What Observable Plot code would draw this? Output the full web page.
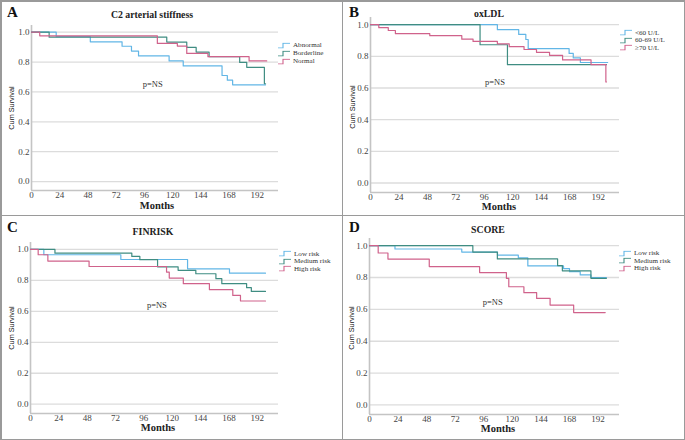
<!DOCTYPE html>
<html>
<head>
<meta charset="utf-8">
<script src="https://cdn.jsdelivr.net/npm/d3@7"></script>
<script src="https://cdn.jsdelivr.net/npm/@observablehq/plot@0.6"></script>
<style>
  html, body { margin: 0; padding: 0; background: #fff; }
  #fig { position: relative; width: 685px; height: 440px; background: #fff; overflow: hidden; }
  .panel { position: absolute; }
  .panel svg { position: absolute; left: 0; top: 0; }
  .lbl { position: absolute; white-space: nowrap; font-family: "Liberation Serif", serif; color: #222; line-height: 1; }
  .letter { font-size: 15px; font-weight: bold; color: #111; }
  .title { font-size: 9.8px; font-weight: bold; transform: translate(-50%, -50%); }
  .months { font-size: 10.5px; font-weight: bold; transform: translate(-50%, -50%); }
  .ylab { font-family: "Liberation Sans", Arial, sans-serif; font-size: 7.3px; transform: translate(-50%, -50%) rotate(-90deg); color: #111; }
  .leg { font-size: 7.1px; line-height: 7px; height: 7px; color: #333; transform: translateY(-50%); display: flex; align-items: center; }
  .leg svg { position: static; margin-right: 3px; }
  .border { position: absolute; background: #9a9a9a; }
</style>
</head>
<body>
<div id="fig"></div>
<script>
// ---------- data ----------
const xTicks = [0, 24, 48, 72, 96, 120, 144, 168, 192];
const yTicks = [0, 0.2, 0.4, 0.6, 0.8, 1.0];
const colors = ["#62b6e6", "#3f8d82", "#d0628b"];

// Panel A: C2 arterial stiffness
const A_names = ["Abnormal", "Borderline", "Normal"];
const A_abnormal_t = [0, 21, 50, 77, 85, 91, 117, 129, 162, 166.5, 171, 199];
const A_abnormal_s = [1, 0.970, 0.936, 0.906, 0.874, 0.841, 0.808, 0.774, 0.710, 0.679, 0.648, 0.648];
const A_border_t = [0, 15, 115, 132, 140, 151, 177, 183, 198, 199];
const A_border_s = [1, 0.967, 0.934, 0.898, 0.867, 0.836, 0.798, 0.765, 0.655, 0.655];
const A_normal_t = [0, 7, 107, 124, 132, 150, 185, 200];
const A_normal_s = [1, 0.976, 0.925, 0.907, 0.858, 0.836, 0.808, 0.808];

// Panel B: oxLDL
const B_names = ["<60 U/L", "60-69 U/L", "\u226570 U/L"];
const B_lt60_t = [0, 107, 125, 131, 133, 167.5, 171, 177, 200];
const B_lt60_s = [1, 0.968, 0.938, 0.906, 0.848, 0.818, 0.790, 0.761, 0.761];
const B_mid_t = [0, 92.4, 115.5, 199];
const B_mid_s = [1, 0.873, 0.747, 0.747];
const B_ge70_t = [0, 7, 15, 21, 50, 77, 86.5, 107, 117, 129.5, 140, 151, 162, 186, 198.5, 199];
const B_ge70_s = [1, 0.981, 0.963, 0.943, 0.930, 0.908, 0.894, 0.879, 0.861, 0.843, 0.825, 0.806, 0.777, 0.747, 0.638, 0.638];

// Panel C: FINRISK
const C_names = ["Low risk", "Medium risk", "High risk"];
const C_low_t = [0, 11.3, 76.5, 133, 168.5, 199];
const C_low_s = [1, 0.966, 0.935, 0.875, 0.847, 0.847];
const C_med_t = [0, 20.7, 85.8, 92.6, 107.6, 125, 140, 157, 162, 183, 187, 199];
const C_med_s = [1, 0.976, 0.955, 0.934, 0.888, 0.865, 0.843, 0.811, 0.779, 0.753, 0.729, 0.729];
const C_high_t = [0, 6.5, 14.7, 49.6, 115.2, 117.5, 129.4, 151.5, 171.3, 177.8, 199];
const C_high_s = [1, 0.966, 0.925, 0.890, 0.854, 0.815, 0.779, 0.740, 0.703, 0.667, 0.667];

// Panel D: SCORE
const D_names = ["Low risk", "Medium risk", "High risk"];
const D_low_t = [0, 21.4, 77.5, 107.5, 125, 133, 163, 168, 177, 186, 199];
const D_low_s = [1, 0.979, 0.960, 0.940, 0.923, 0.873, 0.856, 0.837, 0.816, 0.800, 0.800];
const D_med_t = [0, 86.8, 107.4, 158, 162, 186, 199];
const D_med_s = [1, 0.960, 0.917, 0.875, 0.842, 0.795, 0.795];
const D_high_t = [0, 7.3, 15.5, 50.2, 92.5, 115, 117, 129.7, 140.4, 151.7, 171.5, 198];
const D_high_s = [1, 0.954, 0.916, 0.869, 0.831, 0.795, 0.742, 0.705, 0.669, 0.627, 0.580, 0.580];

const pText = "p=NS";

// ---------- helpers ----------
function series(name, ts, ss) { return ts.map((t, i) => ({g: name, t, s: ss[i]})); }

const panels = [
  {left: 0, top: 0, w: 342, h: 215, letter: "A", title: "C2 arterial stiffness",
   mL: 31, mR: 64, mT: 25, mB: 25, pX: 103, pY: 0.65, titleXY: [152, 15], monthsXY: [157, 206], ylabXY: [12, 108],
   names: A_names, legX: 278, legY: [45, 53, 61],
   data: [series(A_names[0], A_abnormal_t, A_abnormal_s), series(A_names[1], A_border_t, A_border_s), series(A_names[2], A_normal_t, A_normal_s)]},
  {left: 342, top: 0, w: 343, h: 215, letter: "B", title: "oxLDL",
   mL: 28, mR: 66, mT: 17, mB: 23, pX: 105, pY: 0.637, titleXY: [147, 14], monthsXY: [157, 207], ylabXY: [11, 107],
   names: B_names, legX: 278, legY: [32.5, 40, 47.5],
   data: [series(B_names[0], B_lt60_t, B_lt60_s), series(B_names[1], B_mid_t, B_mid_s), series(B_names[2], B_ge70_t, B_ge70_s)]},
  {left: 0, top: 215, w: 342, h: 225, letter: "C", title: "FINRISK",
   mL: 30, mR: 64, mT: 27, mB: 27, pX: 107, pY: 0.64, titleXY: [153, 17], monthsXY: [158, 213], ylabXY: [12, 113],
   names: C_names, legX: 279, legY: [38.5, 46, 53.5],
   data: [series(C_names[0], C_low_t, C_low_s), series(C_names[1], C_med_t, C_med_s), series(C_names[2], C_high_t, C_high_s)]},
  {left: 342, top: 215, w: 343, h: 225, letter: "D", title: "SCORE",
   mL: 27, mR: 66, mT: 23, mB: 26, pX: 103.5, pY: 0.644, titleXY: [146, 15], monthsXY: [156, 214], ylabXY: [10, 113],
   names: D_names, legX: 277, legY: [38, 45.5, 53],
   data: [series(D_names[0], D_low_t, D_low_s), series(D_names[1], D_med_t, D_med_s), series(D_names[2], D_high_t, D_high_s)]}
];

const fig = document.getElementById("fig");
const yMin = -0.06, yMax = 1.045;

for (const p of panels) {
  const div = document.createElement("div");
  div.className = "panel";
  Object.assign(div.style, {left: p.left + "px", top: p.top + "px", width: p.w + "px", height: p.h + "px"});
  const data = p.data.flat();
  const chart = Plot.plot({
    width: p.w, height: p.h,
    marginLeft: p.mL, marginRight: p.mR, marginTop: p.mT, marginBottom: p.mB,
    x: {domain: [0, 210]},
    y: {domain: [yMin, yMax]},
    color: {domain: p.names, range: colors},
    style: {fontFamily: "'Liberation Serif', serif", fontSize: "9px", color: "#444", background: "transparent"},
    marks: [
      Plot.ruleY(yTicks, {stroke: "#dcdcdc", strokeWidth: 1.3}),
      Plot.ruleX([0], {stroke: "#c4c4c4", strokeWidth: 1.6}),
      Plot.ruleY([yMin], {stroke: "#c4c4c4", strokeWidth: 1.3}),
      Plot.axisY({ticks: yTicks, tickSize: 0, tickPadding: 2, tickFormat: d3.format(".1f"), label: null}),
      Plot.axisX({ticks: xTicks, tickSize: 0, tickPadding: 1, label: null}),
      Plot.line(data, {x: "t", y: "s", z: "g", stroke: "g", curve: "step-after", strokeWidth: 1.2}),
      Plot.text([pText], {x: () => p.pX, y: () => p.pY, text: d => d, fontSize: 8.5, fill: "#333"})
    ]
  });
  div.appendChild(chart);

  const add = (cls, text, x, y) => {
    const e = document.createElement("div");
    e.className = "lbl " + cls;
    e.textContent = text;
    e.style.left = x + "px"; e.style.top = y + "px";
    div.appendChild(e);
    return e;
  };
  add("letter", p.letter, 7, 5);
  add("title", p.title, p.titleXY[0], p.titleXY[1]);
  add("months", "Months", p.monthsXY[0], p.monthsXY[1]);
  add("ylab", "Cum Survival", p.ylabXY[0], p.ylabXY[1]);
  p.names.forEach((n, i) => {
    const e = document.createElement("div");
    e.className = "lbl leg";
    e.style.left = p.legX + "px"; e.style.top = p.legY[i] + "px";
    e.innerHTML = `<svg width="12" height="6"><path d="M0,5.5H5V0.7H12" fill="none" stroke="${colors[i]}" stroke-width="1.1"/></svg>`;
    const s = document.createElement("span"); s.textContent = n; e.appendChild(s);
    div.appendChild(e);
  });
  fig.appendChild(div);
}

// panel borders
const borders = [
  {left: 0, top: 0, width: 685, height: 1.5},
  {left: 0, top: 438.5, width: 685, height: 1.5},
  {left: 0, top: 0, width: 1.5, height: 440},
  {left: 683.5, top: 0, width: 1.5, height: 440},
  {left: 341.5, top: 0, width: 1.5, height: 440},
  {left: 0, top: 214.5, width: 685, height: 1.5}
];
for (const b of borders) {
  const e = document.createElement("div"); e.className = "border";
  Object.assign(e.style, {left: b.left + "px", top: b.top + "px", width: b.width + "px", height: b.height + "px"});
  fig.appendChild(e);
}
</script>
</body>
</html>
